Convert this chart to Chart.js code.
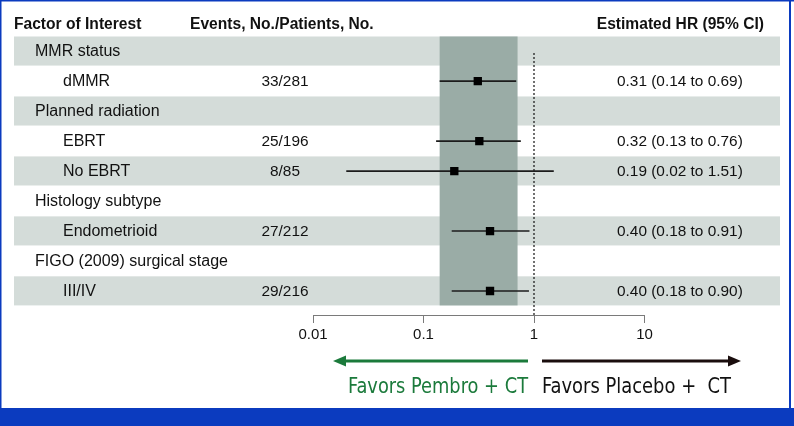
<!DOCTYPE html>
<html>
<head>
<meta charset="utf-8">
<script src="https://cdn.jsdelivr.net/npm/chart.js@4.4.1/dist/chart.umd.min.js"></script>
<style>
    html, body { margin: 0; padding: 0; background: #ffffff; }
    canvas { display: block; }
</style>
</head>
<body>
<canvas id="forestChart" width="794" height="426"></canvas>
<script>
// rows of the forest plot, top to bottom
var factors = ['MMR status', 'dMMR', 'Planned radiation', 'EBRT', 'No EBRT', 'Histology subtype', 'Endometrioid', 'FIGO (2009) surgical stage', 'III/IV'];
var isSubgroup = [false, true, false, true, true, false, true, false, true];
var events = ['', '33/281', '', '25/196', '8/85', '', '27/212', '', '29/216'];
var hazardRatio = [null, 0.31, null, 0.32, 0.19, null, 0.40, null, 0.40];
var ciLow = [null, 0.14, null, 0.13, 0.02, null, 0.18, null, 0.18];
var ciHigh = [null, 0.69, null, 0.76, 1.51, null, 0.91, null, 0.90];
var hrLabels = ['', '0.31 (0.14 to 0.69)', '', '0.32 (0.13 to 0.76)', '0.19 (0.02 to 1.51)', '', '0.40 (0.18 to 0.91)', '', '0.40 (0.18 to 0.90)'];
var xTicks = [0.01, 0.1, 1, 10];
var overallBand = [0.14, 0.71];
var headers = ['Factor of Interest', 'Events, No./Patients, No.', 'Estimated HR (95% CI)'];
var favorLabels = ['Favors Pembro + CT', 'Favors Placebo +  CT'];

var FONT = '"Liberation Sans", Arial, Helvetica, sans-serif';
var BAND_COLOR = '#d4dcd9';
var COLUMN_COLOR = '#9aaca6';
var GREEN = '#1b7a3b';
var BLUE = '#0b3bbf';

var pointData = [];
var whiskerSets = [];
factors.forEach(function (name, i) {
    if (hazardRatio[i] === null) {
        return;
    }
    pointData.push({ x: hazardRatio[i], y: i });
    whiskerSets.push({
        data: [{ x: ciLow[i], y: i }, { x: ciHigh[i], y: i }],
        showLine: true,
        borderColor: '#1c1c1c',
        borderWidth: 1.6,
        pointRadius: 0
    });
});

var backgroundPlugin = {
    id: 'forestBackground',
    beforeDraw: function (chart) {
        var ctx = chart.ctx;
        var xs = chart.scales.x;
        var ys = chart.scales.y;

        ctx.save();
        ctx.fillStyle = '#ffffff';
        ctx.fillRect(0, 0, chart.width, chart.height);

        // alternating row bands
        ctx.fillStyle = BAND_COLOR;
        factors.forEach(function (name, i) {
            if (i % 2 === 0) {
                var top = ys.getPixelForValue(i - 0.49);
                var bottom = ys.getPixelForValue(i + 0.48);
                ctx.fillRect(14, top, 766, bottom - top);
            }
        });

        // overall CI column
        var left = xs.getPixelForValue(overallBand[0]);
        var right = xs.getPixelForValue(overallBand[1]);
        var colTop = ys.getPixelForValue(-0.49);
        var colBottom = ys.getPixelForValue(8.48);
        ctx.fillStyle = COLUMN_COLOR;
        ctx.fillRect(left, colTop, right - left, colBottom - colTop);

        // header
        ctx.fillStyle = '#111111';
        ctx.font = 'bold 15.6px ' + FONT;
        ctx.textBaseline = 'alphabetic';
        ctx.textAlign = 'left';
        ctx.fillText(headers[0], 14, 28.5);
        ctx.fillText(headers[1], 190, 28.5);
        ctx.textAlign = 'right';
        ctx.fillText(headers[2], 764, 28.5);

        // row texts
        factors.forEach(function (name, i) {
            var y = ys.getPixelForValue(i) + 5;
            ctx.font = '16px ' + FONT;
            ctx.textAlign = 'left';
            ctx.fillText(name, isSubgroup[i] ? 63 : 35, y);
            ctx.font = '15.4px ' + FONT;
            if (events[i]) {
                ctx.textAlign = 'center';
                ctx.fillText(events[i], 285, y);
            }
            if (hrLabels[i]) {
                ctx.textAlign = 'left';
                ctx.fillText(hrLabels[i], 617, y);
            }
        });
        ctx.restore();
    },
    afterDraw: function (chart) {
        var ctx = chart.ctx;
        var xs = chart.scales.x;
        var one = xs.getPixelForValue(1);
        var arrowY = 361;

        ctx.save();
        // favours arrows
        drawArrow(ctx, one - 6, one - 201, arrowY, GREEN);
        drawArrow(ctx, one + 8, one + 207, arrowY, '#1a0d0d');

        ctx.textBaseline = 'alphabetic';
        ctx.font = '21px "Liberation Sans Narrow", "DejaVu Sans Condensed", ' + FONT;
        drawFitted(ctx, favorLabels[0], one - 6, 393, 180, 'right', GREEN);
        drawFitted(ctx, favorLabels[1], one + 8, 393, 189, 'left', '#111111');

        // page frame
        ctx.fillStyle = BLUE;
        ctx.fillRect(0, 0, chart.width, 1.5);
        ctx.fillRect(0, 0, 1.5, chart.height);
        ctx.fillRect(789, 0, 2, chart.height);
        ctx.fillRect(0, 408, chart.width, chart.height - 408);
        ctx.restore();
    }
};

function drawArrow(ctx, fromX, toX, y, color) {
    var dir = toX > fromX ? 1 : -1;
    var headLen = 13;
    ctx.strokeStyle = color;
    ctx.fillStyle = color;
    ctx.lineWidth = 3;
    ctx.beginPath();
    ctx.moveTo(fromX, y);
    ctx.lineTo(toX - dir * headLen, y);
    ctx.stroke();
    ctx.beginPath();
    ctx.moveTo(toX, y);
    ctx.lineTo(toX - dir * headLen, y - 5.5);
    ctx.lineTo(toX - dir * headLen, y + 5.5);
    ctx.closePath();
    ctx.fill();
}

function drawFitted(ctx, text, x, y, targetWidth, align, color) {
    var w = ctx.measureText(text).width;
    var sx = w > targetWidth * 1.04 ? targetWidth / w : 1;
    ctx.save();
    ctx.fillStyle = color;
    ctx.textAlign = align;
    ctx.translate(x, y);
    ctx.scale(sx, 1);
    ctx.fillText(text, 0, 0);
    ctx.restore();
}

var datasets = [{
    data: pointData,
    pointStyle: 'rect',
    pointRadius: 5.9,
    pointBackgroundColor: '#000000',
    pointBorderWidth: 0,
    showLine: false
}].concat(whiskerSets).concat([{
    data: [{ x: 1, y: 0.06 }, { x: 1, y: 8.8 }],
    showLine: true,
    borderColor: '#111111',
    borderWidth: 1.2,
    borderDash: [2, 2],
    pointRadius: 0
}]);

new Chart(document.getElementById('forestChart'), {
    type: 'scatter',
    data: { datasets: datasets },
    options: {
        responsive: false,
        animation: false,
        devicePixelRatio: 1,
        layout: { padding: { left: 313, right: 149.5, top: 36.2, bottom: 71 } },
        plugins: {
            legend: { display: false },
            tooltip: { enabled: false }
        },
        scales: {
            x: {
                type: 'logarithmic',
                position: 'bottom',
                min: 0.01,
                max: 10,
                afterBuildTicks: function (scale) {
                    scale.ticks = xTicks.map(function (v) { return { value: v }; });
                },
                afterFit: function (scale) {
                    scale.height = 40;
                },
                grid: {
                    drawOnChartArea: false,
                    tickLength: 8,
                    color: '#7a7a7a',
                    lineWidth: 1
                },
                border: { color: '#7a7a7a', width: 1 },
                ticks: {
                    padding: 3,
                    color: '#111111',
                    font: { family: FONT, size: 15 },
                    callback: function (value) {
                        return String(value);
                    }
                }
            },
            y: {
                type: 'linear',
                display: false,
                reverse: true,
                min: -0.5,
                max: 8.8
            }
        }
    },
    plugins: [backgroundPlugin]
});
</script>
</body>
</html>
